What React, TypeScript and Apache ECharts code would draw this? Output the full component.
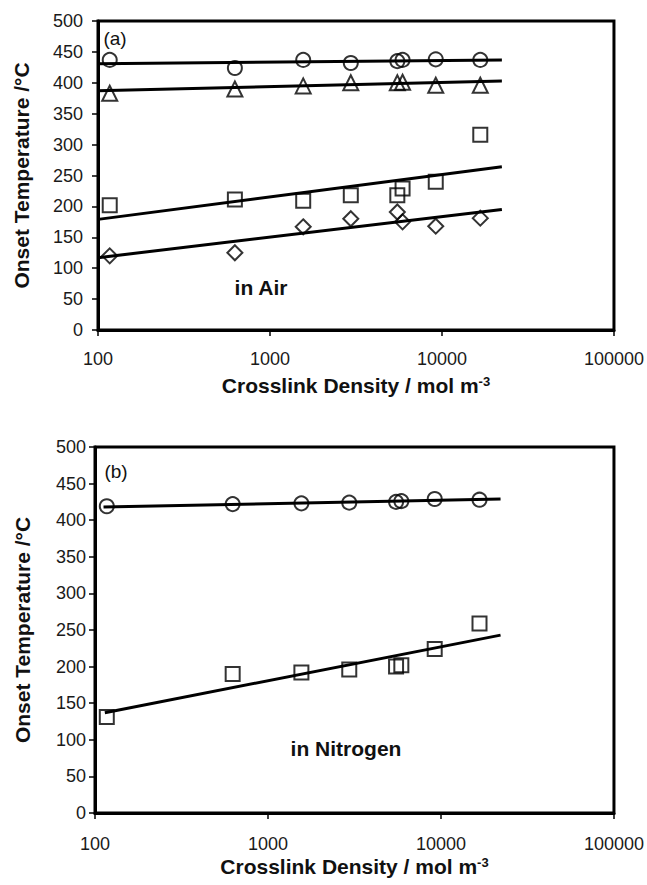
import React, { useEffect, useRef } from "react";
import * as echarts from "echarts";

// Crosslink density (mol m^-3) of the samples
const density = [117, 625, 1560, 2950, 5500, 5900, 9200, 16700];

// (a) Onset temperature in air (°C)
const airCircle = [437, 424, 437, 432, 435, 437, 438, 437];
const airTriangle = [383, 390, 395, 400, 400, 401, 396, 396];
const airSquare = [202, 211, 209, 218, 218, 229, 240, 316];
const airDiamond = [120, 125, 167, 180, 191, 175, 168, 181];

// (b) Onset temperature in nitrogen (°C)
const n2Circle = [419, 422, 423, 424, 425, 426, 429, 428];
const n2Square = [131, 190, 192, 196, 200, 202, 224, 259];

// Linear (log-x) trend lines: [x, y] end points
const airCircleFit = [[100, 431], [22300, 437]];
const airTriangleFit = [[100, 387], [22300, 403]];
const airSquareFit = [[100, 179], [22300, 264]];
const airDiamondFit = [[100, 117], [22300, 195]];
const n2CircleFit = [[112, 418], [22100, 429]];
const n2SquareFit = [[114, 137], [22100, 243]];

const yTicks = { min: 0, max: 500, interval: 50 };
const xRange = { min: 100, max: 100000 };

const FONT = "'Liberation Sans', Arial, sans-serif";

const pairs = (ys: number[]) => density.map((x, i) => [x, ys[i]]);

export default function App() {
  const ref = useRef<HTMLDivElement>(null);
  useEffect(() => {
    if (!ref.current) return;
    const chart = echarts.init(ref.current, null, { renderer: "svg" });

    const xAxisBase = (gridIndex: number, margin: number, nameGap: number) => ({
      type: "log",
      logBase: 10,
      gridIndex,
      min: xRange.min,
      max: xRange.max,
      name: "Crosslink Density / mol m{sup|-3}",
      nameLocation: "middle",
      nameGap,
      nameTextStyle: {
        fontFamily: FONT,
        fontWeight: "bold",
        fontSize: 21,
        color: "#111",
        rich: {
          sup: {
            fontFamily: FONT,
            fontWeight: "bold",
            fontSize: 13,
            color: "#111",
            verticalAlign: "top",
            lineHeight: 12,
          },
        },
      },
      axisLine: { show: true, lineStyle: { color: "#000", width: 3 } },
      axisTick: { show: true, length: 6, lineStyle: { color: "#000", width: 1.5 } },
      minorTick: { show: false },
      splitLine: { show: false },
      axisLabel: {
        fontFamily: FONT,
        fontSize: 18,
        color: "#1a1a1a",
        margin,
        showMinLabel: true,
        showMaxLabel: true,
        formatter: (v: number) => String(Math.round(v)),
      },
    });

    const yAxisBase = (gridIndex: number, margin: number, nameGap: number) => ({
      type: "value",
      gridIndex,
      ...yTicks,
      name: "Onset Temperature /°C",
      nameLocation: "middle",
      nameGap,
      nameTextStyle: {
        fontFamily: FONT,
        fontWeight: "bold",
        fontSize: 21,
        color: "#111",
      },
      axisLine: { show: true, lineStyle: { color: "#000", width: 3 } },
      axisTick: { show: true, length: 6, lineStyle: { color: "#000", width: 1.5 } },
      splitLine: { show: false },
      axisLabel: {
        fontFamily: FONT,
        fontSize: 18,
        color: "#1a1a1a",
        margin,
      },
    });

    const scatter = (
      xi: number,
      data: number[][],
      symbol: string,
      size: number
    ) => ({
      type: "scatter",
      xAxisIndex: xi,
      yAxisIndex: xi,
      data,
      symbol,
      symbolSize: size,
      itemStyle: { color: "rgba(0,0,0,0)", borderColor: "#000", borderWidth: 2 },
      z: 3,
    });

    const fit = (xi: number, data: number[][]) => ({
      type: "line",
      xAxisIndex: xi,
      yAxisIndex: xi,
      data,
      showSymbol: false,
      symbol: "none",
      clip: true,
      lineStyle: { color: "#000", width: 3 },
      z: 2,
    });

    const textEl = (
      x: number,
      y: number,
      text: string,
      size: number,
      bold: boolean
    ) => ({
      type: "text",
      x,
      y,
      style: {
        text,
        fontFamily: FONT,
        fontSize: size,
        fontWeight: bold ? "bold" : "normal",
        fill: "#111",
        align: "center",
        verticalAlign: "middle",
      },
      z: 10,
    });

    chart.setOption({
      animation: false,
      backgroundColor: "#fff",
      grid: [
        {
          left: 98,
          top: 21,
          width: 520,
          height: 309,
          show: true,
          borderColor: "#000",
          borderWidth: 3,
          backgroundColor: "rgba(0,0,0,0)",
        },
        {
          left: 95,
          top: 447,
          width: 522,
          height: 366,
          show: true,
          borderColor: "#000",
          borderWidth: 3,
          backgroundColor: "rgba(0,0,0,0)",
        },
      ],
      xAxis: [xAxisBase(0, 20, 45), xAxisBase(1, 22, 43)],
      yAxis: [yAxisBase(0, 15, 66), yAxisBase(1, 9, 62)],
      series: [
        fit(0, airCircleFit),
        fit(0, airTriangleFit),
        fit(0, airSquareFit),
        fit(0, airDiamondFit),
        scatter(0, pairs(airCircle), "circle", 14),
        scatter(0, pairs(airTriangle), "triangle", 15),
        scatter(0, pairs(airSquare), "rect", 14),
        scatter(0, pairs(airDiamond), "diamond", 15),
        fit(1, n2CircleFit),
        fit(1, n2SquareFit),
        scatter(1, pairs(n2Circle), "circle", 14),
        scatter(1, pairs(n2Square), "rect", 14),
      ],
      graphic: [
        textEl(115, 38, "(a)", 19, false),
        textEl(261, 287, "in Air", 21, true),
        textEl(116, 471, "(b)", 19, false),
        textEl(346, 748, "in Nitrogen", 21, true),
      ],
    });

    return () => chart.dispose();
  }, []);

  return (
    <div
      ref={ref}
      style={{ position: "absolute", left: 0, top: 0, width: 647, height: 885 }}
    />
  );
}
